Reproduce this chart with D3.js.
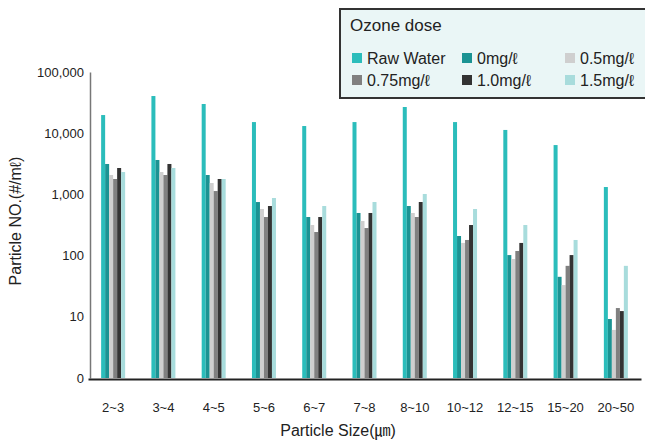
<!DOCTYPE html>
<html>
<head>
<meta charset="utf-8">
<script src="https://cdn.jsdelivr.net/npm/d3@7/dist/d3.min.js"></script>
<style>
  body { margin: 0; background: #fff; }
  svg text { font-family: "Liberation Sans", Arial, "Noto Sans CJK KR", sans-serif; fill: #222; }
</style>
</head>
<body>
<svg id="chart" width="645" height="444"></svg>
<script>
(function() {

    // particle size classes (um)
    var sizes = ["2~3", "3~4", "4~5", "5~6", "6~7", "7~8", "8~10", "10~12", "12~15", "15~20", "20~50"];

    var series = ["Raw Water", "0mg/ℓ", "0.5mg/ℓ", "0.75mg/ℓ", "1.0mg/ℓ", "1.5mg/ℓ"];
    var colors = ["#2bbdbb", "#1b9393", "#cfcfcf", "#808080", "#333333", "#a8dcdc"];

    // particle counts (#/ml)
    var rawWater = [19800, 40500, 30000, 15200, 13100, 15200, 26800, 15200, 11300, 6400, 1320];
    var dose0    = [3140, 3650, 2075, 750, 427, 497, 646, 209, 102, 45, 9.2];
    var dose05   = [2075, 2320, 1535, 577, 316, 367, 497, 161, 88, 33, 6.1];
    var dose075  = [1785, 2075, 1135, 427, 243, 282, 427, 180, 119, 68, 13.9];
    var dose10   = [2700, 3140, 1785, 646, 427, 497, 751, 316, 161, 102, 12.4];
    var dose15   = [2320, 2700, 1785, 873, 646, 751, 1016, 577, 316, 180, 68];

    var yTicks = [1, 10, 100, 1000, 10000, 100000];
    var yTickLabels = ["0", "10", "100", "1,000", "10,000", "100,000"];

    var values = [rawWater, dose0, dose05, dose075, dose10, dose15];

    var svg = d3.select("#chart");

    var x0 = d3.scaleBand()
        .domain(sizes)
        .range([88, 641]);

    var x1 = d3.scaleBand()
        .domain(series)
        .range([0, 24]);

    var y = d3.scaleLog()
        .domain([1, 100000])
        .range([378, 72]);

    /* bars */
    var groups = svg.append("g").selectAll("g")
        .data(sizes)
        .enter().append("g")
        .attr("transform", function(d) {
            return "translate(" + (x0(d) + (x0.bandwidth() - 24) / 2) + ",0)";
        });

    groups.selectAll("rect")
        .data(function(d, i) {
            return series.map(function(s, j) {
                return { key: s, value: values[j][i], color: colors[j] };
            });
        })
        .enter().append("rect")
        .attr("x", function(d) { return x1(d.key); })
        .attr("width", x1.bandwidth())
        .attr("y", function(d) { return y(d.value); })
        .attr("height", function(d) { return y(1) - y(d.value); })
        .style("fill", function(d) { return d.color; });

    /* y axis */
    var yAxis = d3.axisLeft(y)
        .tickValues(yTicks)
        .tickSize(0)
        .tickPadding(6)
        .tickFormat(function(d, i) { return yTickLabels[i]; });

    var gy = svg.append("g")
        .attr("transform", "translate(90,0)")
        .call(yAxis);
    gy.select(".domain").attr("stroke", "#777").attr("stroke-width", 1.5);
    gy.selectAll("text")
        .style("font-size", "13px")
        .style("font-family", "Liberation Sans, Arial, sans-serif");

    /* x axis */
    var xAxis = d3.axisBottom(x0)
        .tickSize(0)
        .tickPadding(24);

    var gx = svg.append("g")
        .attr("transform", "translate(0,379)")
        .call(xAxis);
    gx.select(".domain").attr("stroke", "#222").attr("stroke-width", 2);
    gx.selectAll("text")
        .style("font-size", "13px")
        .style("font-family", "Liberation Sans, Arial, sans-serif");

    /* axis titles */
    svg.append("text")
        .attr("x", 338)
        .attr("y", 436)
        .attr("text-anchor", "middle")
        .style("font-size", "16px")
        .text("Particle Size(㎛)");

    svg.append("text")
        .attr("transform", "translate(21,221) rotate(-90)")
        .attr("text-anchor", "middle")
        .style("font-size", "16px")
        .text("Particle NO.(#/mℓ)");

    /* legend */
    var legend = svg.append("g");
    legend.append("rect")
        .attr("x", 340)
        .attr("y", 9)
        .attr("width", 320)
        .attr("height", 89)
        .style("fill", "#eaf6f6")
        .style("stroke", "#333")
        .style("stroke-width", 2);

    legend.append("text")
        .attr("x", 350)
        .attr("y", 31)
        .style("font-size", "17px")
        .text("Ozone dose");

    var colX = [352, 462, 565];
    var rowY = [58, 80];

    var items = legend.selectAll("g.item")
        .data(series)
        .enter().append("g")
        .attr("class", "item")
        .attr("transform", function(d, i) {
            return "translate(" + colX[i % 3] + "," + rowY[Math.floor(i / 3)] + ")";
        });

    items.append("rect")
        .attr("x", 0)
        .attr("y", -5)
        .attr("width", 10)
        .attr("height", 10)
        .style("fill", function(d, i) { return colors[i]; });

    items.append("text")
        .attr("x", 15)
        .attr("dy", "0.35em")
        .style("font-size", "16px")
        .text(function(d) { return d; });

})();
</script>
</body>
</html>
